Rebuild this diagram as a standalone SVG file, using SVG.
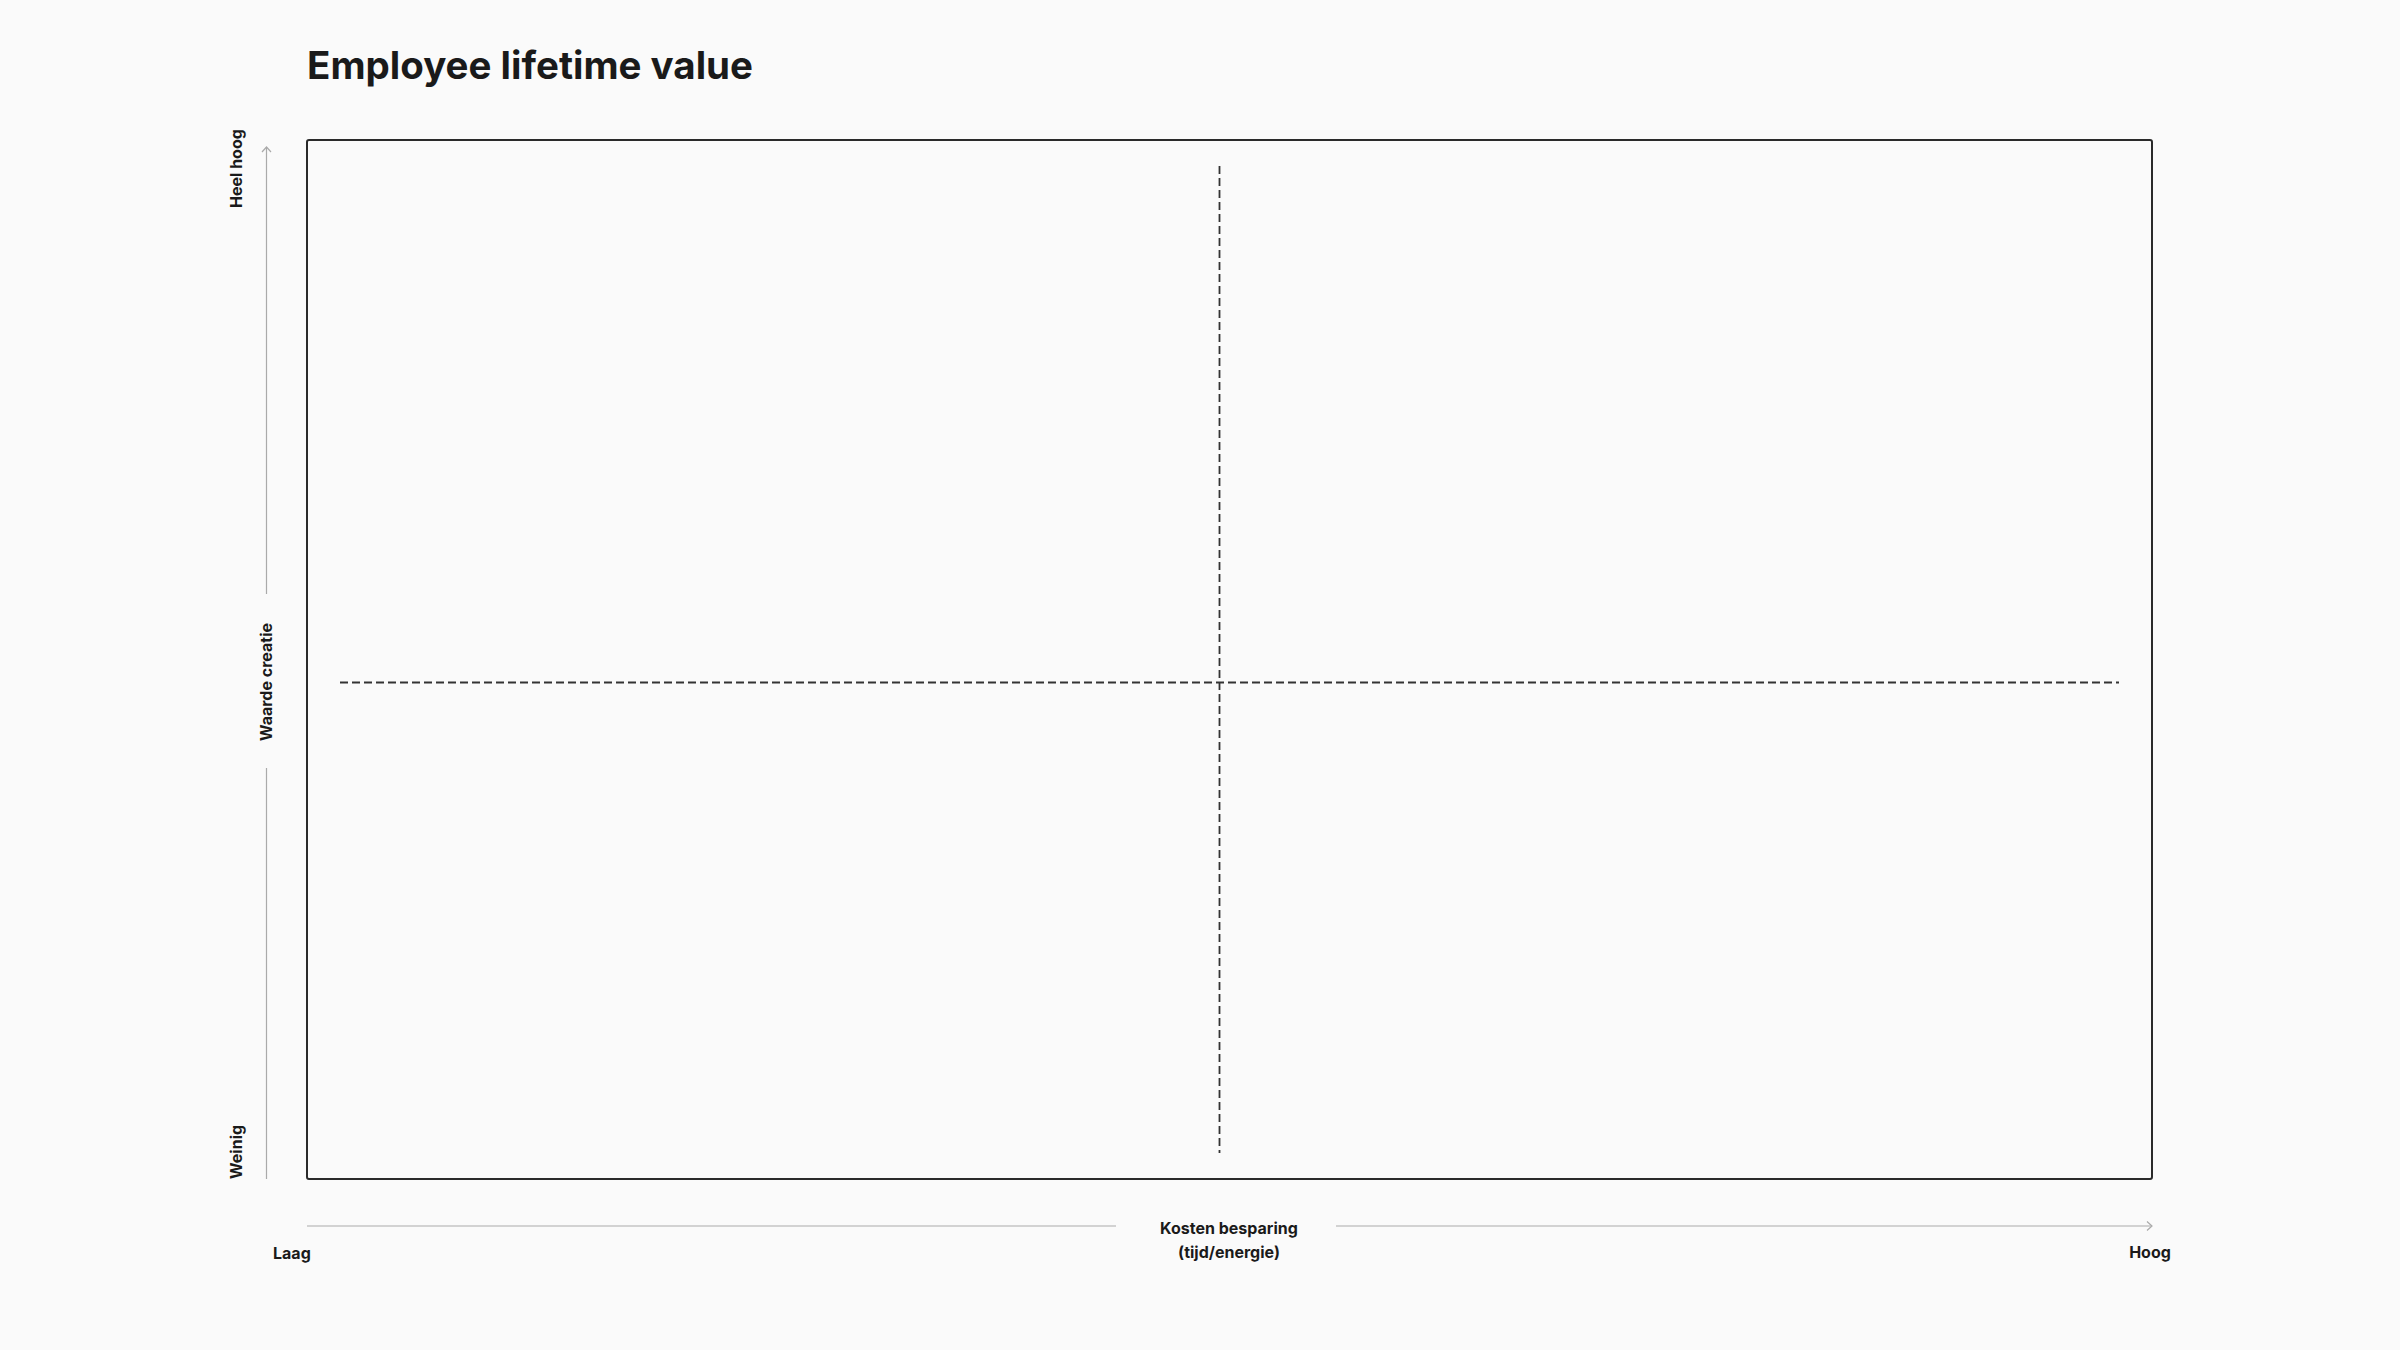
<svg xmlns="http://www.w3.org/2000/svg" width="2400" height="1350" viewBox="0 0 2400 1350">
<style>
.t{font-family:Inter,"Liberation Sans",sans-serif;font-weight:700;fill:#1a1a1a}
.lbl{font-size:16px}
.axis{stroke:#aaaaaa;stroke-width:1.2;fill:none}
.dash{stroke:#333333;stroke-width:1.8;stroke-dasharray:8 4;fill:none}
</style>
<rect x="0" y="0" width="2400" height="1350" fill="#fafafa"/>
<g id="title"><text class="t" x="307" y="79" font-size="38.5" letter-spacing="0">Employee lifetime value</text></g>
<g id="matrix">
<rect x="307" y="140" width="1845" height="1039" rx="2" fill="#fafafa" stroke="#2a2a2a" stroke-width="2"/>
</g>
<g id="connectors">
<line class="dash" x1="1219.5" y1="166" x2="1219.5" y2="1153"/>
<line class="dash" x1="340" y1="682.5" x2="2119" y2="682.5"/>
<path class="axis" d="M266.5 147 V594 M266.5 768 V1179"/>
<path class="axis" d="M262 152 L266.5 147 L271 152"/>
<path class="axis" d="M307 1226 H1116 M1336 1226 H2152"/>
<path class="axis" d="M2147 1221.5 L2152 1226 L2147 1230.5"/>
</g>
<g id="y-labels">
<text class="t lbl" transform="translate(241.5,208) rotate(-90)">Heel hoog</text>
<text class="t lbl" text-anchor="middle" transform="translate(266.5,682) rotate(-90)" dy="5.5">Waarde creatie</text>
<text class="t lbl" transform="translate(242,1179) rotate(-90)">Weinig</text>
</g>
<g id="x-labels">
<text class="t lbl" x="273" y="1259">Laag</text>
<text class="t lbl" x="1229" y="1234" text-anchor="middle">Kosten besparing</text>
<text class="t lbl" x="1229" y="1258" text-anchor="middle">(tijd/energie)</text>
<text class="t lbl" x="2150" y="1258" text-anchor="middle">Hoog</text>
</g>
</svg>
